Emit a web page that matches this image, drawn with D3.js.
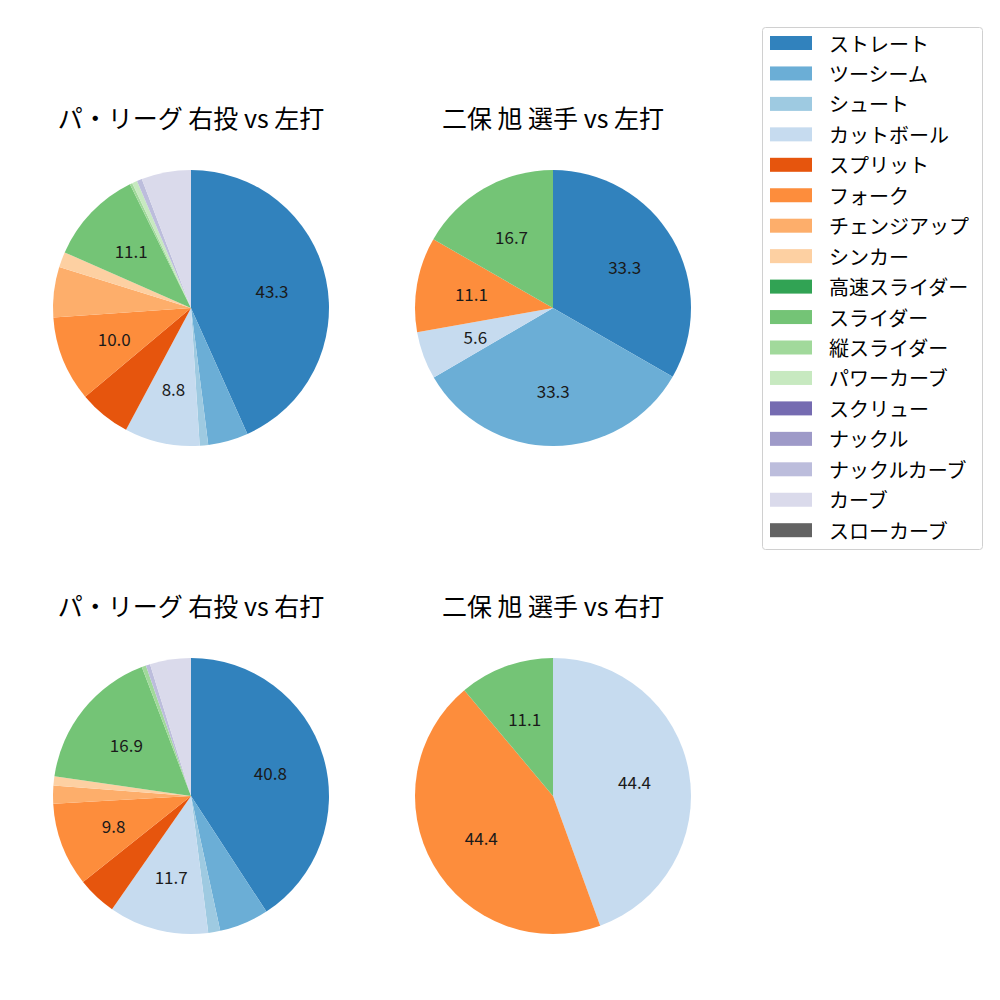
<!DOCTYPE html>
<html><head><meta charset="utf-8">
<script src="https://cdn.jsdelivr.net/npm/d3@7"></script>
<style>body{margin:0;background:#fff}svg{font-family:"Noto Sans CJK JP","Noto Sans",sans-serif}</style>
</head><body><svg id="c" width="1000" height="1000"></svg>
<script>
const pitchTypes = ["ストレート","ツーシーム","シュート","カットボール","スプリット","フォーク","チェンジアップ","シンカー","高速スライダー","スライダー","縦スライダー","パワーカーブ","スクリュー","ナックル","ナックルカーブ","カーブ","スローカーブ"];
const colors = ["#3182bd","#6baed6","#9ecae1","#c6dbef","#e6550d","#fd8d3c","#fdae6b","#fdd0a2","#31a354","#74c476","#a1d99b","#c7e9c0","#756bb1","#9e9ac8","#bcbddc","#dadaeb","#636363"];

const titles = ["パ・リーグ 右投 vs 左打","二保 旭 選手 vs 左打","パ・リーグ 右投 vs 右打","二保 旭 選手 vs 右打"];
// values in pitchTypes order
const leagueVsLeft  = [43.3,4.7,1.0,8.8,6.1,10.0,5.9,1.8,0,11.1,0.3,0.6,0,0,0.6,5.8,0];
const playerVsLeft  = [33.3,33.3,0,5.6,0,11.1,0,0,0,16.7,0,0,0,0,0,0,0];
const leagueVsRight = [40.8,5.8,1.4,11.7,4.6,9.8,2.1,1.1,0,16.9,0.5,0,0,0,0.5,4.8,0];
const playerVsRight = [0,0,0,44.4,0,44.4,0,0,0,11.1,0,0,0,0,0,0,0];
const labelMin = [8,5,8,5];

const panels = [
  {data:leagueVsLeft, cx:191, cy:308, ty:117},
  {data:playerVsLeft, cx:553, cy:308, ty:117},
  {data:leagueVsRight, cx:191, cy:796, ty:605},
  {data:playerVsRight, cx:553, cy:796, ty:605}
];
const R = 138;
const svg = d3.select("#c");
const color = d3.scaleOrdinal().domain(pitchTypes).range(colors);
const pie = d3.pie().sort(null).value(d=>d.v);
const arc = d3.arc().innerRadius(0).outerRadius(R);
const labelArc = d3.arc().innerRadius(R*0.6).outerRadius(R*0.6);

panels.forEach((p,i)=>{
  const g = svg.append("g").attr("transform",`translate(${p.cx},${p.cy})`);
  const items = pitchTypes.map((n,k)=>({n, v:p.data[k]})).filter(d=>d.v>0);
  const arcs = pie(items);
  g.selectAll("path").data(arcs).enter().append("path")
    .attr("d",arc).attr("fill",d=>color(d.data.n));
  g.selectAll("text").data(arcs.filter(d=>d.data.v>=labelMin[i])).enter().append("text")
    .attr("transform",d=>`translate(${labelArc.centroid(d)})`)
    .attr("text-anchor","middle").attr("dominant-baseline","central")
    .attr("font-size",17).attr("fill","#1a1a1a")
    .text(d=>d.data.v.toFixed(1));
  svg.append("text").attr("x",p.cx).attr("y",p.ty).attr("text-anchor","middle")
    .attr("dominant-baseline","central").attr("font-size",25).text(titles[i]);
});

// legend
const lg = svg.append("g");
lg.append("rect").attr("x",762.5).attr("y",27.5).attr("width",220).attr("height",522)
  .attr("rx",3).attr("fill","#fff").attr("stroke","#d0d0d0");
pitchTypes.forEach((n,k)=>{
  const y = 43 + k*30.45;
  lg.append("rect").attr("x",770).attr("y",y-7).attr("width",42).attr("height",14).attr("fill",color(n));
  lg.append("text").attr("x",829).attr("y",y).attr("dominant-baseline","central")
    .attr("font-size",20).text(n);
});
</script></body></html>
